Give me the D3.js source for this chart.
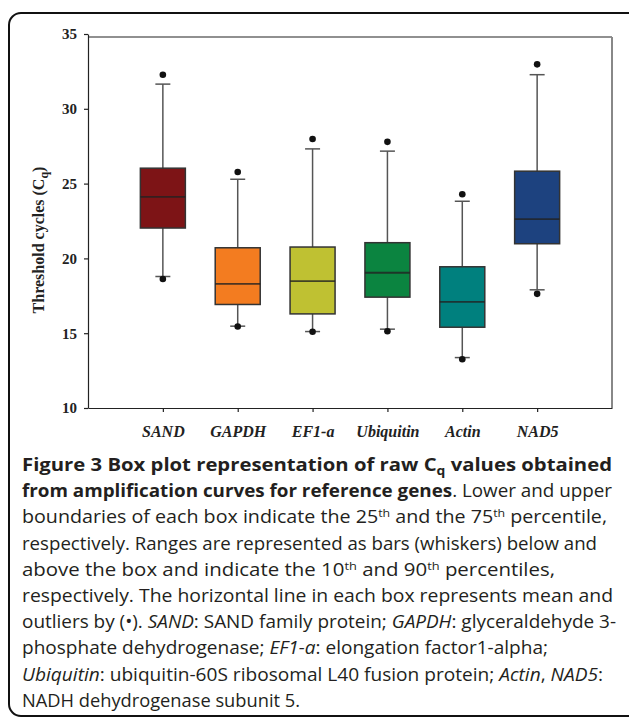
<!DOCTYPE html>
<html lang="en">
<head>
<meta charset="utf-8">
<script src="https://d3js.org/d3.v7.min.js"></script>
<style type="text/css">
body { margin: 0; background: #fff; }
.axis text { font-family: "Liberation Serif", serif; font-weight: bold; font-size: 15px; fill: #222; }
.axis path, .axis line { stroke: #222; stroke-width: 1.2; }
.caption { font-family: "Open Sans", sans-serif; font-size: 17.5px; fill: #231f20; }
</style>
</head>
<body>
<script type="text/javascript">
// box plot values (Cq)
var genes = ["SAND", "GAPDH", "EF1-a", "Ubiquitin", "Actin", "NAD5"];
var q1 = [22.03, 16.92, 16.29, 17.41, 15.40, 20.98];
var median = [24.11, 18.30, 18.48, 19.04, 17.10, 22.63];
var q3 = [26.03, 20.71, 20.76, 21.05, 19.44, 25.83];
var p10 = [18.79, 15.47, 15.11, 15.27, 13.37, 17.90];
var p90 = [31.65, 25.29, 27.32, 27.17, 23.82, 32.28];
var outLow = [18.62, 15.45, 15.10, 15.13, 13.26, 17.63];
var outHigh = [32.28, 25.78, 27.98, 27.79, 24.29, 32.97];
var colors = ["#7d1416", "#f37c20", "#bfc132", "#0b8440", "#00807e", "#1d427f"];
var yTicks = [10, 15, 20, 25, 30, 35];

var W = 629, H = 720;
var svg = d3.select("body").append("svg")
    .attr("width", W)
    .attr("height", H);

// outer rounded frame
svg.append("rect")
    .attr("x", 9).attr("y", 13)
    .attr("width", 640).attr("height", 703)
    .attr("rx", 12)
    .attr("fill", "none")
    .attr("stroke", "#111")
    .attr("stroke-width", 2);

var pLeft = 88, pRight = 612, pTop = 34, pBottom = 408;

var y = d3.scaleLinear().domain([10, 35]).range([pBottom, pTop]);
var x = d3.scalePoint().domain(genes).range([pLeft, pRight]).padding(1);

// plot frame (top + right)
svg.append("line")
    .attr("x1", pLeft).attr("x2", pRight)
    .attr("y1", pTop + 3).attr("y2", pTop + 3)
    .attr("stroke", "#222").attr("stroke-width", 1.2);
svg.append("line")
    .attr("x1", pRight).attr("x2", pRight)
    .attr("y1", pTop + 3).attr("y2", pBottom)
    .attr("stroke", "#888").attr("stroke-width", 2);

svg.append("g")
    .attr("class", "axis")
    .attr("transform", "translate(" + pLeft + ",0)")
    .call(d3.axisLeft(y).tickValues(yTicks).tickSize(4).tickSizeOuter(0).tickPadding(7));

var xa = svg.append("g")
    .attr("class", "axis")
    .attr("transform", "translate(0," + pBottom + ")")
    .call(d3.axisBottom(x).tickSize(4).tickSizeOuter(0).tickPadding(14));
xa.selectAll("text").style("font-style", "italic").style("font-size", "16px");
xa.select(".domain").attr("stroke", "#444");

// y title
var yt = svg.append("text")
    .attr("transform", "translate(44,240) rotate(-90)")
    .attr("text-anchor", "middle")
    .style("font-family", "Liberation Serif, serif")
    .style("font-weight", "bold")
    .style("font-size", "16px")
    .attr("fill", "#222");
yt.append("tspan").text("Threshold cycles (C");
yt.append("tspan").attr("dy", 4).style("font-size", "12px").text("q");
yt.append("tspan").attr("dy", -4).text(")");

var bw = 45, cap = 15;
var g = svg.append("g");
genes.forEach(function(d, i) {
  var cx = x(d);
  // whiskers
  g.append("line").attr("x1", cx).attr("x2", cx)
    .attr("y1", y(p90[i])).attr("y2", y(q3[i]))
    .attr("stroke", "#555").attr("stroke-width", 1.5);
  g.append("line").attr("x1", cx).attr("x2", cx)
    .attr("y1", y(q1[i])).attr("y2", y(p10[i]))
    .attr("stroke", "#555").attr("stroke-width", 1.5);
  [p90[i], p10[i]].forEach(function(v) {
    g.append("line").attr("x1", cx - cap / 2).attr("x2", cx + cap / 2)
      .attr("y1", y(v)).attr("y2", y(v))
      .attr("stroke", "#555").attr("stroke-width", 1.5);
  });
  g.append("rect")
    .attr("x", cx - bw / 2).attr("width", bw)
    .attr("y", y(q3[i])).attr("height", y(q1[i]) - y(q3[i]))
    .attr("fill", colors[i])
    .attr("stroke", "#333").attr("stroke-width", 1.5);
  g.append("line").attr("x1", cx - bw / 2).attr("x2", cx + bw / 2)
    .attr("y1", y(median[i])).attr("y2", y(median[i]))
    .attr("stroke", "#222").attr("stroke-width", 1.8).attr("stroke-opacity", 0.8);
  [outLow[i], outHigh[i]].forEach(function(v) {
    g.append("circle").attr("cx", cx).attr("cy", y(v)).attr("r", 3.3).attr("fill", "#111");
  });
});

// caption
var capLines = [
  [["Figure 3 Box plot representation of raw C", "b"], ["q", "bsub"], [" values obtained", "b"]],
  [["from amplification curves for reference genes", "b"], [". Lower and upper", ""]],
  [["boundaries of each box indicate the 25", ""], ["th", "sup"], [" and the 75", ""], ["th", "sup"], [" percentile,", ""]],
  [["respectively. Ranges are represented as bars (whiskers) below and", ""]],
  [["above the box and indicate the 10", ""], ["th", "sup"], [" and 90", ""], ["th", "sup"], [" percentiles,", ""]],
  [["respectively. The horizontal line in each box represents mean and", ""]],
  [["outliers by (\u2022). ", ""], ["SAND", "i"], [": SAND family protein; ", ""], ["GAPDH", "i"], [": glyceraldehyde 3-", ""]],
  [["phosphate dehydrogenase; ", ""], ["EF1-a", "i"], [": elongation factor1-alpha;", ""]],
  [["Ubiquitin", "i"], [": ubiquitin-60S ribosomal L40 fusion protein; ", ""], ["Actin", "i"], [", ", ""], ["NAD5", "i"], [":", ""]],
  [["NADH dehydrogenase subunit 5.", ""]]
];
var capWidths = [590, 590, 585, 575, 533, 591, 594, 526, 581, 278];

capLines.forEach(function(line, k) {
  var t = svg.append("text")
      .attr("class", "caption")
      .attr("x", 22)
      .attr("y", 471 + k * 26.2)
      .attr("textLength", capWidths[k])
      .attr("lengthAdjust", "spacingAndGlyphs");
  line.forEach(function(p) {
    var s = t.append("tspan").text(p[0]);
    if (p[1] == "b") s.style("font-weight", "bold");
    if (p[1] == "i") s.style("font-style", "italic");
    if (p[1] == "bsub") s.style("font-weight", "bold").style("font-size", "12px").attr("dy", 4);
    if (p[1] == "sup") s.style("font-size", "11px").attr("dy", -6);
  });
  // reset baseline shifts
  t.selectAll("tspan").each(function(d, j, nodes) {
    var prev = j > 0 ? d3.select(nodes[j - 1]) : null;
    if (prev && prev.attr("dy") && !d3.select(this).attr("dy")) {
      d3.select(this).attr("dy", -parseFloat(prev.attr("dy")));
    }
  });
});
</script>
</body>
</html>
